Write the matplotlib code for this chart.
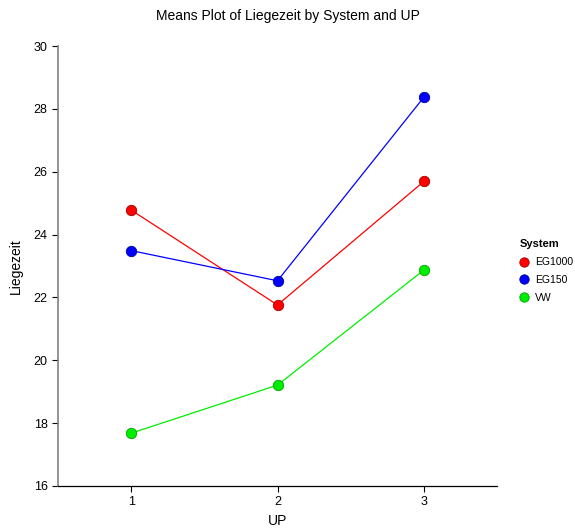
import matplotlib
matplotlib.use("Agg")
import matplotlib.pyplot as plt

plt.rcParams['font.family'] = ['Liberation Sans', 'DejaVu Sans']

up = [1, 2, 3]
systems = ["EG1000", "EG150", "VW"]
eg1000 = [24.78, 21.76, 25.69]
eg150 = [23.49, 22.53, 28.37]
vw = [17.68, 19.21, 22.87]
colors = ["#ff0000", "#0000ff", "#00ee00"]
edges = ["#a00000", "#000090", "#00a000"]

fig = plt.figure(figsize=(5.75, 5.31), dpi=100)
ax = fig.add_axes([58/575, 45/531, 439/575, 440/531])

for name, vals, c, ec in zip(systems, [eg1000, eg150, vw], colors, edges):
    ax.plot(up, vals, color=c, lw=0.9, marker='o', markersize=7.5,
            markerfacecolor=c, markeredgecolor=ec, markeredgewidth=0.6, label=name)

ax.set_xlim(0.5, 3.5)
ax.set_ylim(16, 30)
ax.set_xticks(up)
ax.set_yticks(range(16, 31, 2))
ax.tick_params(labelsize=9, length=4, width=0.8)
ax.spines['top'].set_visible(False)
ax.spines['right'].set_visible(False)
ax.spines['left'].set_color('#808080')
ax.spines['left'].set_linewidth(1.2)
ax.spines['bottom'].set_linewidth(0.9)

ax.set_ylabel("Liegezeit", fontsize=10, labelpad=8)
ax.set_xlabel("UP", fontsize=10, va='center')
ax.xaxis.set_label_coords(0.5, -(521 - 486) / 440)
fig.text(0.5, 1 - 16/531, "Means Plot of Liegezeit by System and UP",
         ha='center', va='center', fontsize=10)

leg = ax.legend(title="System", loc='upper left', bbox_to_anchor=(510/575, 1 - 230/531),
                bbox_transform=fig.transFigure, frameon=False, fontsize=7.5,
                title_fontsize=8, handlelength=0.8, handletextpad=0.7,
                labelspacing=0.75, markerscale=0.9)
leg.get_title().set_fontweight('bold')
leg._legend_box.align = "left"
for h in leg.legend_handles:
    h.set_linestyle('none')

fig.savefig("out.png", dpi=100)
